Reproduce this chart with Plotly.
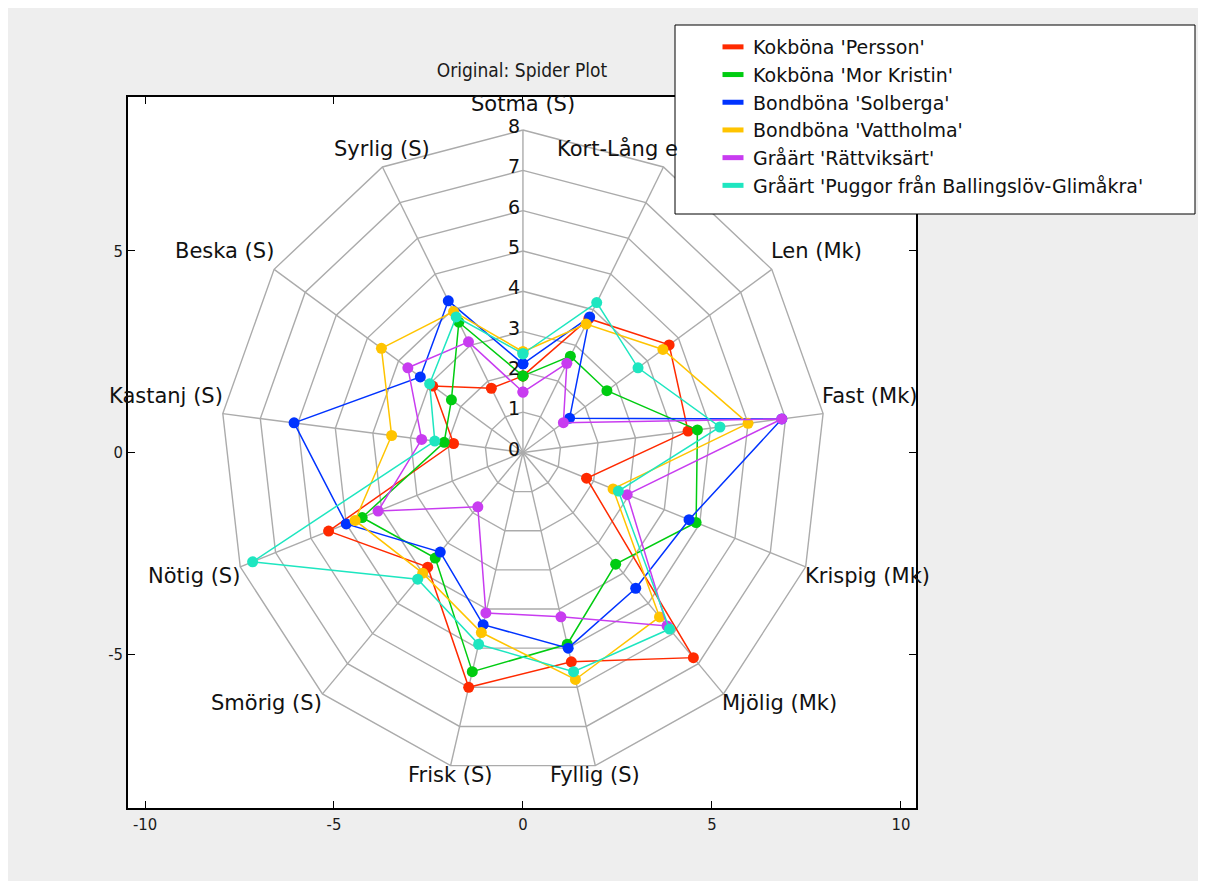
import numpy as np
import plotly.graph_objects as go

# ---------------- data ----------------
axis_labels = ["Sotma (S)", "Kort-Lång e", "Len (Mk)", "Fast (Mk)", "Krispig (Mk)",
               "Mjölig (Mk)", "Fyllig (S)", "Frisk (S)", "Smörig (S)", "Nötig (S)",
               "Kastanj (S)", "Beska (S)", "Syrlig (S)"]

series_names = ["Kokböna 'Persson'", "Kokböna 'Mor Kristin'", "Bondböna 'Solberga'",
                "Bondböna 'Vattholma'", "Gråärt 'Rättviksärt'",
                "Gråärt 'Puggor från Ballingslöv-Glimåkra'"]

persson     = [1.9, 3.75, 4.7, 4.4, 1.8, 6.8, 5.35, 6.0, 3.8, 5.5, 1.85, 2.9, 1.8]
mor_kristin = [1.9, 2.7, 2.7, 4.65, 4.9, 3.7, 4.9, 5.6, 3.5, 4.55, 2.1, 2.3, 3.65]
solberga    = [2.2, 3.8, 1.5, 6.9, 4.7, 4.5, 5.0, 4.4, 3.3, 5.0, 6.1, 3.3, 4.25]
vattholma   = [2.5, 3.6, 4.5, 6.0, 2.55, 5.45, 5.8, 4.6, 4.0, 4.75, 3.5, 4.55, 3.95]
rattviksart = [1.5, 2.5, 1.3, 6.9, 2.95, 5.75, 4.2, 4.1, 1.8, 4.1, 2.7, 3.7, 3.1]
puggor      = [2.45, 4.2, 3.7, 5.25, 2.7, 5.85, 5.6, 4.9, 4.2, 7.65, 2.35, 3.0, 3.8]

ring_levels = [0, 1, 2, 3, 4, 5, 6, 7, 8]
x_ticks = [-10, -5, 0, 5, 10]
y_ticks = [-5, 0, 5]

series_values = [persson, mor_kristin, solberga, vattholma, rattviksart, puggor]
colors = ["#ff2a00", "#00cc11", "#0033ff", "#ffc400", "#c83cf0", "#1ee6c0"]

# ---------------- geometry ----------------
n = len(axis_labels)
theta = np.pi / 2 - 2 * np.pi * np.arange(n) / n
cs, sn = np.cos(theta), np.sin(theta)
rmax = max(ring_levels)

fig = go.Figure()

# grid rings
gx, gy = [], []
for r in ring_levels[1:]:
    gx += list(r * cs) + [r * cs[0], None]
    gy += list(r * sn) + [r * sn[0], None]
# spokes
for i in range(n):
    gx += [0, rmax * cs[i], None]
    gy += [0, rmax * sn[i], None]
fig.add_trace(go.Scatter(x=gx, y=gy, mode="lines", line=dict(color="#ababab", width=1.4),
                         hoverinfo="skip", showlegend=False))

# data series
for name, vals, col in zip(series_names, series_values, colors):
    v = np.array(vals + vals[:1])
    th = np.append(theta, theta[0])
    fig.add_trace(go.Scatter(x=v * np.cos(th), y=v * np.sin(th), mode="lines+markers",
                             name=name, line=dict(color=col, width=1.5),
                             marker=dict(color=col, size=11, line=dict(width=0)),
                             showlegend=False))

# legend-only entries (patches)
for name, col in zip(series_names, colors):
    fig.add_trace(go.Scatter(x=[None], y=[None], mode="markers", name=name,
                             marker=dict(symbol="line-ew", size=15, color=col,
                                         line=dict(color=col, width=7))))

annotations = []
# axis labels
for i, lab in enumerate(axis_labels):
    vx, vy = rmax * cs[i], rmax * sn[i]
    xs = 0
    if abs(cs[i]) < 0.5:
        xa = "center"
    elif cs[i] > 0:
        xa = "left"
        xs = -3
    else:
        xa = "right"
        xs = 2
    if sn[i] > 0:
        ya = "bottom"
        ys = 12 if i == 0 else 4
    else:
        ya = "top"
        ys = 5
    if lab.startswith("Kort"):
        # label partly hidden behind the legend box: only its visible part is shown
        xa = "left"
        vx = vx - 2.86
        xs = 0
    annotations.append(dict(x=vx, y=vy, xref="x", yref="y", text=lab, showarrow=False,
                            xanchor=xa, yanchor=ya, xshift=xs, yshift=ys,
                            font=dict(family="DejaVu Sans", size=21, color="#111111")))
# ring labels
for r in ring_levels:
    annotations.append(dict(x=0, y=r, xref="x", yref="y", text=str(r), showarrow=False,
                            xanchor="right", yanchor="middle", xshift=-1, yshift=4,
                            font=dict(family="DejaVu Sans", size=19, color="#111111")))

tick_font = dict(family="Liberation Sans Narrow, DejaVu Sans Condensed", size=16.5,
                 color="#1a1a1a")
W, H = 1198, 873
fig.update_layout(
    width=W, height=H,
    margin=dict(l=120, r=W - 908, t=89, b=H - 800, pad=0),
    paper_bgcolor="#eeeeee", plot_bgcolor="white",
    title=dict(text="Original: Spider Plot", x=0.5, xref="paper", xanchor="center",
               y=1 - 62 / H, yanchor="middle",
               font=dict(family="Liberation Sans Narrow, DejaVu Sans Condensed", size=19,
                         color="#1a1a1a")),
    xaxis=dict(range=[-10.45, 10.40], tickvals=x_ticks, ticktext=[str(t) for t in x_ticks],
               ticks="inside", ticklen=7,
               tickcolor="black", showline=True, linecolor="black", linewidth=1.5,
               mirror="ticks", showgrid=False, zeroline=False, tickfont=tick_font),
    yaxis=dict(range=[-8.82, 8.82], tickvals=y_ticks, ticktext=[str(t) for t in y_ticks],
               ticks="inside", ticklen=7,
               tickcolor="black", showline=True, linecolor="black", linewidth=1.5,
               mirror="ticks", showgrid=False, zeroline=False, tickfont=tick_font),
    legend=dict(x=(705 - 120) / 788, xanchor="left", y=(800 - 20) / 711, yanchor="top",
                xref="paper", yref="paper", bgcolor="rgba(0,0,0,0)", borderwidth=0,
                font=dict(family="DejaVu Sans", size=19, color="#111111")),
    shapes=[dict(type="rect", xref="paper", yref="paper",
                 x0=(667 - 120) / 788, x1=(1187 - 120) / 788,
                 y0=(800 - 206) / 711, y1=(800 - 17) / 711,
                 fillcolor="white", line=dict(color="black", width=1), layer="above")],
    annotations=annotations,
    showlegend=True,
)

fig.write_html("out.html")
